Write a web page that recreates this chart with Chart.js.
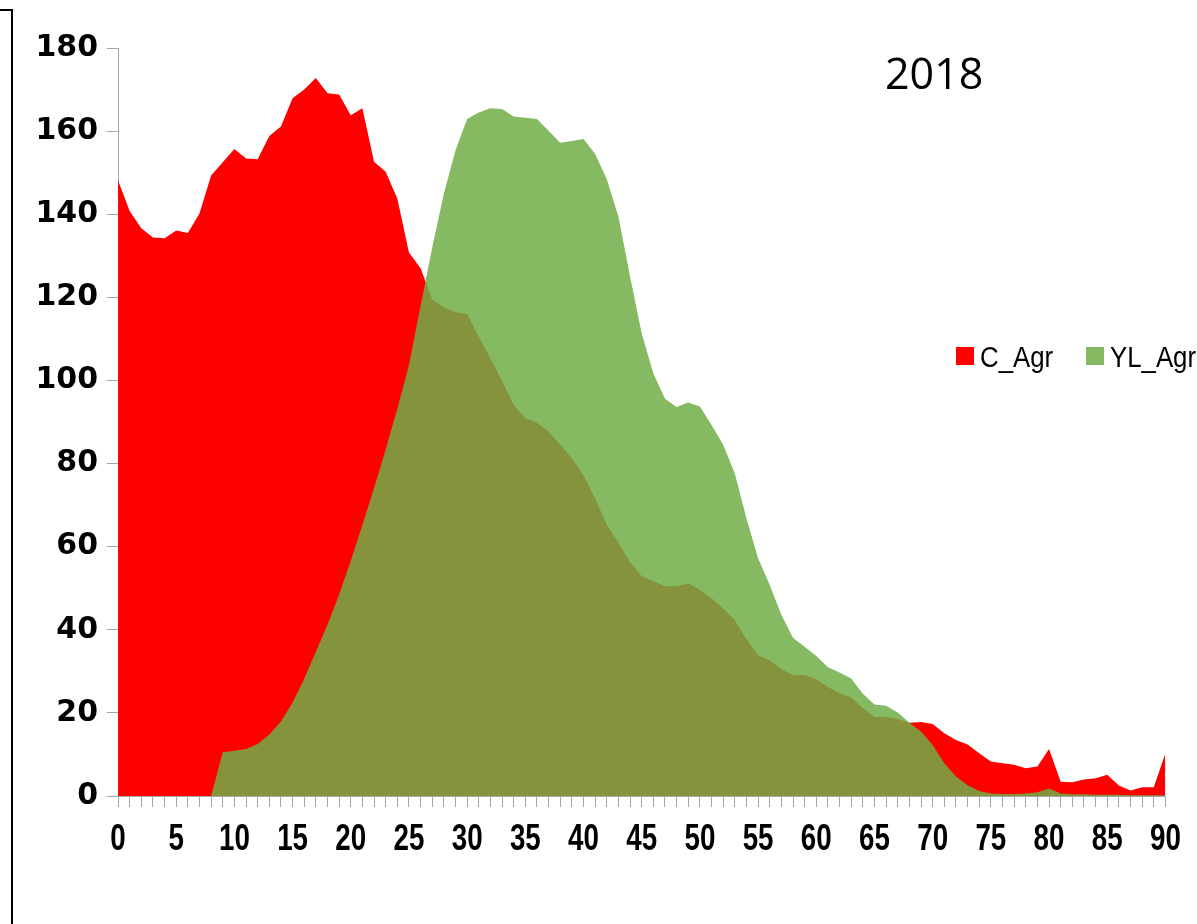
<!DOCTYPE html>
<html>
<head>
<meta charset="utf-8">
<script src="https://cdn.jsdelivr.net/npm/chart.js@4.4.1/dist/chart.umd.min.js"></script>
<style>
  html, body { margin: 0; padding: 0; background: #fff; }
  #wrap { position: relative; width: 1197px; height: 924px; overflow: hidden; background: #fff; }
  #chart { position: absolute; left: 0; top: 0; }
  #frame { position: absolute; left: -10px; top: 9px; width: 21px; height: 1000px;
           border-top: 2px solid #000; border-right: 2px solid #000; }
  #title { position: absolute; left: 885px; top: 51px; font-family: 'Open Sans', 'Noto Sans', sans-serif;
           font-size: 43px; line-height: 1; color: #000; }
  .lg-box { position: absolute; width: 18px; height: 18px; }
  .lg-txt { position: absolute; font-family: 'Liberation Sans', Arial, sans-serif;
            font-size: 30px; line-height: 1; color: #000; white-space: nowrap;
            transform: scaleX(0.86); transform-origin: 0 0; }
</style>
</head>
<body>
<div id="wrap">
  <canvas id="chart" width="1197" height="924"></canvas>
  <div id="frame"></div>
  <div id="title">2018</div>
</div>
<script>
const categories = ['0','1','2','3','4','5','6','7','8','9','10','11','12','13','14','15','16','17','18','19',
  '20','21','22','23','24','25','26','27','28','29','30','31','32','33','34','35','36','37','38','39',
  '40','41','42','43','44','45','46','47','48','49','50','51','52','53','54','55','56','57','58','59',
  '60','61','62','63','64','65','66','67','68','69','70','71','72','73','74','75','76','77','78','79',
  '80','81','82','83','84','85','86','87','88','89','90'];

const cAgr = [148.2,140.8,136.6,134.4,134.2,136.1,135.5,140.2,149.3,152.5,
  155.7,153.4,153.2,158.8,161.1,167.9,170.0,172.8,169.1,168.8,
  163.8,165.5,152.6,150.2,143.8,130.8,127.0,119.5,117.6,116.4,
  116.0,110.5,105.3,99.9,94.1,90.9,89.8,87.7,84.5,81.3,
  77.2,71.6,65.2,61.0,56.2,52.9,51.7,50.5,50.5,51.2,
  49.6,47.6,45.2,42.3,37.7,33.9,32.6,30.5,29.1,29.1,
  28.1,26.2,24.7,23.7,21.1,19.0,19.0,18.5,17.6,17.8,
  17.3,15.1,13.5,12.4,10.3,8.3,7.9,7.5,6.7,7.1,
  11.3,3.4,3.3,4.0,4.3,5.1,2.5,1.3,2.1,2.1,
  10.3];

const ylAgr = [0,0,0,0,0,0,0,0,0,10.5,
  10.9,11.3,12.5,14.8,17.9,22.5,28.2,34.7,41.2,48.5,
  56.6,65.2,74.1,83.4,93.2,103.7,118.0,132.0,145.0,155.4,
  162.9,164.5,165.5,165.3,163.5,163.2,162.9,160.1,157.2,157.6,
  158.1,154.5,148.4,139.4,125.0,111.3,101.7,95.6,93.6,94.7,
  93.7,89.3,84.5,77.6,66.8,57.2,50.8,43.6,38.1,35.9,
  33.7,31.0,29.7,28.3,24.6,22.0,21.7,20.1,17.6,15.5,
  12.3,7.9,4.7,2.6,1.2,0.6,0.5,0.5,0.6,0.9,
  1.8,0.6,0.4,0.4,0.3,0.3,0.3,0.2,0.2,0.2,
  0.2];

const yTicks = [0, 20, 40, 60, 80, 100, 120, 140, 160, 180];
const xLabelEvery = 5;

const seriesNames = ['C_Agr', 'YL_Agr'];
const seriesColors = ['#FF0000', 'rgba(112,173,71,0.85)'];

const axisGrey = '#a6a6a6';

// Condensed rendering of the x-axis tick labels (the reference uses a narrow bold face)
const narrowXLabels = {
  id: 'narrowXLabels',
  beforeDraw(chart) {
    const sc = chart.scales.x;
    if (sc._narrowPatched) return;
    sc._narrowPatched = true;
    const orig = sc.drawLabels;
    sc.drawLabels = function (area) {
      const ctx = this.ctx;
      const f = ctx.fillText;
      const k = 0.75;
      ctx.fillText = function (t, x, y, mw) {
        this.save(); this.scale(k, 1); f.call(this, t, x / k, y); this.restore();
      };
      orig.call(this, area);
      ctx.fillText = f;
    };
  }
};

const chart = new Chart(document.getElementById('chart'), {
  type: 'line',
  data: {
    labels: categories,
    datasets: [
      { label: seriesNames[0], data: cAgr, backgroundColor: seriesColors[0], borderColor: seriesColors[0],
        borderWidth: 0, fill: 'origin', pointRadius: 0, tension: 0, order: 1 },
      { label: seriesNames[1], data: ylAgr, backgroundColor: seriesColors[1], borderColor: seriesColors[1],
        borderWidth: 0, fill: 'origin', pointRadius: 0, tension: 0, order: 0 }
    ]
  },
  plugins: [narrowXLabels],
  options: {
    responsive: false,
    animation: false,
    events: [],
    layout: { padding: { top: 48, right: 23, left: 0, bottom: 0 } },
    plugins: { legend: { display: false }, tooltip: { enabled: false }, title: { display: false } },
    scales: {
      x: {
        type: 'category',
        offset: false,
        grid: { display: true, drawOnChartArea: false, drawTicks: true, tickLength: 11, color: axisGrey, lineWidth: 1 },
        border: { display: true, color: axisGrey, width: 1 },
        ticks: {
          autoSkip: false, maxRotation: 0, minRotation: 0, padding: 11, color: '#000',
          font: { family: "'Liberation Sans', Arial, sans-serif", size: 37, weight: 'bold' },
          callback: (v, i) => (i % xLabelEvery === 0 ? categories[i] : '')
        },
        afterFit: (s) => { s.height = 128; }
      },
      y: {
        min: 0, max: 180,
        afterBuildTicks: (s) => { s.ticks = yTicks.map(v => ({ value: v })); },
        grid: { display: true, drawOnChartArea: false, drawTicks: true, tickLength: 11, color: axisGrey, lineWidth: 1 },
        border: { display: true, color: axisGrey, width: 1 },
        ticks: {
          padding: 9, color: '#000',
          font: { family: "'DejaVu Sans', sans-serif", size: 30, weight: 'bold' }
        },
        afterFit: (s) => { s.width = 118; }
      }
    }
  }
});

// Legend built from the chart's datasets
const wrap = document.getElementById('wrap');
const legendLeft = [956, 1086];
chart.data.datasets.forEach((ds, i) => {
  const box = document.createElement('div');
  box.className = 'lg-box';
  box.style.left = legendLeft[i] + 'px';
  box.style.top = '347px';
  box.style.background = ds.backgroundColor;
  wrap.appendChild(box);
  const t = document.createElement('div');
  t.className = 'lg-txt';
  t.style.left = (legendLeft[i] + 24) + 'px';
  t.style.top = '342px';
  t.textContent = ds.label;
  wrap.appendChild(t);
});
</script>
</body>
</html>
